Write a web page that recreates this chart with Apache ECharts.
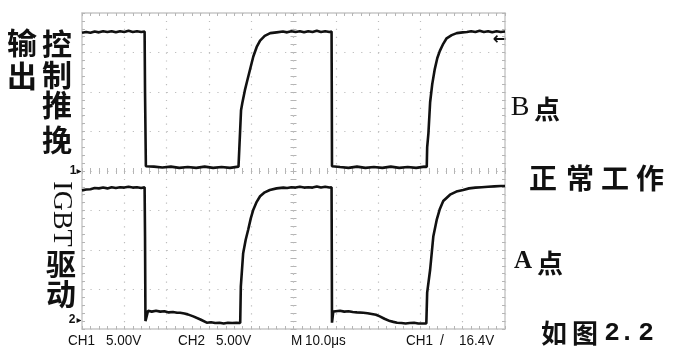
<!DOCTYPE html>
<html>
<head>
<meta charset="utf-8">
<script src="https://cdn.jsdelivr.net/npm/echarts@6/dist/echarts.min.js"></script>
<style>
  html, body { margin: 0; padding: 0; background: #fff; }
  #scope { width: 675px; height: 363px; }
</style>
</head>
<body>
<div id="scope"></div>
<script>
// 示波器: M 10.0us/div, CH1 5.00V/div, CH2 5.00V/div
// 时间 us, 电压 V
var ch1Trace = [
  [-50, 17.5], [-49, 17.6], [-48, 17.5], [-47, 17.65], [-46, 17.55], [-45, 17.7], [-44, 17.6],
  [-43, 17.7], [-42, 17.55], [-41, 17.7], [-40, 17.6], [-39, 17.75], [-38, 17.6], [-37, 17.7],
  [-36, 17.6], [-35.2, 17.65],
  [-35.1, 10.0], [-35.0, 9.8], [-34.9, 0.6],
  [-34.6, 0.8], [-33, 0.55], [-31, 0.45], [-29, 0.55], [-27, 0.4], [-25, 0.5], [-23, 0.4], [-21, 0.55],
  [-19, 0.4], [-17, 0.5], [-15, 0.4], [-13, 0.55], [-12.6, 0.5],
  [-12.4, 7.7], [-12.1, 8.6], [-11.5, 10.2], [-11.0, 11.3], [-10.2, 13.0], [-9.5, 14.5], [-8.7, 15.7],
  [-7.9, 16.5], [-6.8, 17.1], [-5.5, 17.45], [-4, 17.55], [-2.5, 17.65],
  [-1.5, 17.55], [-0.5, 17.7], [0.5, 17.6], [1.5, 17.7], [2.5, 17.55], [3.5, 17.7], [4.5, 17.6],
  [5.5, 17.75], [6.5, 17.6], [7.5, 17.7], [8.5, 17.6], [9.0, 17.65],
  [9.05, 10.0], [9.1, 0.6],
  [9.4, 0.8], [11, 0.5], [13, 0.4], [15, 0.55], [17, 0.4], [19, 0.5], [21, 0.4], [23, 0.55], [25, 0.4],
  [27, 0.5], [29, 0.4], [31, 0.55], [31.5, 0.5],
  [31.6, 3.0], [31.9, 4.8], [32.3, 8.7], [32.8, 11.0], [33.4, 12.9], [34.0, 14.3], [34.6, 15.2],
  [35.4, 16.1], [36.2, 16.8], [37.4, 17.2], [38.6, 17.45], [40, 17.55], [41, 17.6], [42, 17.7],
  [43, 17.6], [44, 17.75], [45, 17.6], [46, 17.7], [47, 17.55], [48, 17.7], [49, 17.6], [50, 17.65]
];

var ch2Trace = [
  [-50, 16.45], [-49, 16.55], [-48, 16.6], [-47, 16.75], [-46, 16.7], [-45, 16.8], [-44, 16.7],
  [-43, 16.85], [-42, 16.75], [-41, 16.85], [-40, 16.8], [-39, 16.9], [-38, 16.8], [-37, 16.85],
  [-36, 16.75], [-35.2, 16.85],
  [-35.1, 10.6], [-35.0, -0.1], [-34.6, -0.2], [-34.4, 1.2],
  [-33.5, 1.1], [-32.5, 1.2], [-31.5, 1.1], [-30.5, 1.15], [-29.5, 1.0], [-28.5, 1.05], [-27.5, 0.95],
  [-26.8, 0.95], [-25.8, 0.85], [-25, 0.75], [-23.7, 0.5], [-22, 0.1],
  [-20.5, -0.3], [-19.5, -0.25], [-18.5, -0.35], [-17.5, -0.3], [-16.5, -0.4], [-15.5, -0.3],
  [-14.5, -0.35], [-13.5, -0.3], [-12.6, -0.35],
  [-12.45, 4.3], [-11.9, 8.5], [-11.3, 10.2], [-10.7, 11.5], [-10.1, 12.9], [-9.5, 14.0], [-8.7, 15.0],
  [-7.9, 15.7], [-6.8, 16.2], [-5.6, 16.5], [-4, 16.7], [-2.4, 16.8],
  [-1.5, 16.75], [-0.5, 16.85], [0.5, 16.8], [1.5, 16.9], [2.5, 16.8], [3.5, 16.85], [4.5, 16.8],
  [5.5, 16.95], [6.5, 16.8], [7.5, 16.9], [8.5, 16.8], [9.0, 16.85],
  [9.05, 9.0], [9.1, -0.3], [9.3, -0.2], [9.4, 1.1],
  [10, 1.15], [11, 1.2], [12, 1.1], [13, 1.15], [14, 1.05], [15, 1.0], [16.5, 0.95], [17.5, 0.9],
  [18.5, 0.8], [19.5, 0.7], [20.4, 0.5], [21.5, 0.2], [22.8, -0.1], [23.6, -0.2], [24.5, -0.3],
  [25.5, -0.35], [26.5, -0.4], [27.5, -0.35], [28.5, -0.3], [29.5, -0.4], [30.7, -0.4], [31.4, -0.4],
  [31.6, 3.5], [32.3, 6.4], [33.05, 10.6], [33.85, 12.7], [34.6, 14.1], [35.4, 15.1], [37, 15.9],
  [38.5, 16.3], [40.1, 16.5], [41.5, 16.7], [43, 16.8], [44.5, 16.85], [46, 16.9], [47.5, 16.95],
  [49, 17.0], [50, 17.0]
];

var ch2Ground = -18.9; // CH2 零点在屏幕上的位置 (按 CH1 刻度, V)
var bottomLabels = ['CH1', '5.00V', 'CH2', '5.00V', 'M', '10.0\u03bcs', 'CH1', '/', '16.4V'];

var gridColor = '#bdbdbd';
var tickColor = '#b5b5b5';
var sansFont = '"Liberation Sans", Arial, sans-serif';
var cjkFont = '"Noto Sans CJK SC", sans-serif';

function frameAxis(dim, position, onZero, splitLine) {
  var ax = {
    type: 'value',
    position: position,
    min: dim === 'x' ? -50 : -20,
    max: dim === 'x' ? 50 : 20,
    interval: dim === 'x' ? 10 : 5,
    axisLine: {
      show: true,
      onZero: onZero,
      lineStyle: onZero
        ? { color: 'rgba(0,0,0,0)' }
        : { color: '#c8c8c8', width: 1.5 }
    },
    axisTick: { show: true, inside: true, length: 3, lineStyle: { color: tickColor } },
    minorTick: { show: true, splitNumber: 5, length: 3, lineStyle: { color: tickColor } },
    axisLabel: { show: false },
    splitLine: { show: false }
  };
  if (onZero) ax.axisLine.onZeroAxisIndex = 0;
  if (splitLine) {
    ax.splitLine = {
      show: true,
      lineStyle: {
        color: gridColor,
        width: 1.2,
        type: dim === 'x' ? [1.2, 6.7] : [1.2, 7.26]
      }
    };
  }
  return ax;
}

function txt(text, x, y, size, opts) {
  opts = opts || {};
  return {
    type: 'text',
    x: x,
    y: y,
    scaleX: opts.scaleX || 1,
    rotation: opts.rotation || 0,
    style: {
      text: text,
      fill: opts.color || '#111',
      font: (opts.weight || 'normal') + ' ' + size + 'px ' + (opts.family || cjkFont),
      textAlign: opts.align || 'center',
      textVerticalAlign: 'middle'
    }
  };
}

var chart = echarts.init(document.getElementById('scope'), null, { renderer: 'canvas' });

var graphics = [
  // 左侧竖排文字
  txt('输', 22, 43, 30, { weight: 'bold' }),
  txt('出', 22, 76, 30, { weight: 'bold' }),
  txt('控', 57, 44, 30, { weight: 'bold' }),
  txt('制', 57, 75, 30, { weight: 'bold' }),
  txt('推', 57, 105, 30, { weight: 'bold' }),
  txt('挽', 57, 140, 30, { weight: 'bold' }),
  txt('IGBT', 61, 214, 28, { rotation: -Math.PI / 2, family: '"Liberation Serif", serif' }),
  txt('驱', 61, 264, 30, { weight: 'bold' }),
  txt('动', 61, 294, 30, { weight: 'bold' }),
  // 右侧说明
  txt('B', 520, 108, 28, { family: '"Liberation Serif", serif' }),
  txt('点', 547, 109, 26, { weight: 'bold' }),
  txt('正', 543, 178, 28, { weight: 'bold' }),
  txt('常', 580, 178, 28, { weight: 'bold' }),
  txt('工', 615, 178, 28, { weight: 'bold' }),
  txt('作', 650, 178, 28, { weight: 'bold' }),
  txt('A', 523, 262, 25, { weight: 'bold', family: '"Liberation Serif", serif' }),
  txt('点', 550, 263, 26, { weight: 'bold' }),
  txt('如', 554, 333, 26, { weight: 'bold' }),
  txt('图', 585, 333, 26, { weight: 'bold' }),
  txt('2', 612, 333, 26, { weight: 'bold', family: '"Liberation Mono", monospace' }),
  txt('.', 627, 333, 26, { weight: 'bold', family: '"Liberation Mono", monospace' }),
  txt('2', 646, 333, 26, { weight: 'bold', family: '"Liberation Mono", monospace' }),
  // 通道零点标记与触发电平
  txt('1', 73, 171, 12, { weight: 'bold', family: sansFont }),
  txt('\u25b8', 79, 171, 10, { family: '"DejaVu Sans", sans-serif' }),
  txt('2', 72, 320, 12, { weight: 'bold', family: sansFont }),
  txt('\u25b8', 79, 320, 10, { family: '"DejaVu Sans", sans-serif' }),
  txt('\u2190', 507, 40, 17, { weight: 'bold', align: 'right', family: '"DejaVu Sans", sans-serif' }),
  // 底部读数
  txt(bottomLabels[0], 68, 341, 15, { align: 'left', family: sansFont, scaleX: 0.9 }),
  txt(bottomLabels[1], 106, 341, 15, { align: 'left', family: sansFont, scaleX: 0.9 }),
  txt(bottomLabels[2], 178, 341, 15, { align: 'left', family: sansFont, scaleX: 0.9 }),
  txt(bottomLabels[3], 216, 341, 15, { align: 'left', family: sansFont, scaleX: 0.9 }),
  txt(bottomLabels[4], 291, 341, 15, { align: 'left', family: sansFont, scaleX: 0.9 }),
  txt(bottomLabels[5], 305, 341, 15, { align: 'left', family: sansFont, scaleX: 0.9 }),
  txt(bottomLabels[6], 406, 341, 15, { align: 'left', family: sansFont, scaleX: 0.9 }),
  txt(bottomLabels[7], 440, 341, 14, { align: 'left', family: sansFont }),
  txt(bottomLabels[8], 459, 341, 15, { align: 'left', family: sansFont, scaleX: 0.9 })
];

chart.setOption({
  backgroundColor: '#fff',
  animation: false,
  grid: { left: 82, top: 13, width: 423, height: 316, show: false },
  xAxis: [
    frameAxis('x', 'bottom', false, true),
    frameAxis('x', 'top', false, false),
    frameAxis('x', 'bottom', true, false),
    frameAxis('x', 'top', true, false)
  ],
  yAxis: [
    frameAxis('y', 'left', false, true),
    frameAxis('y', 'right', false, false),
    frameAxis('y', 'left', true, false),
    frameAxis('y', 'right', true, false)
  ],
  series: [
    {
      name: 'CH1 B点',
      type: 'line',
      xAxisIndex: 0,
      yAxisIndex: 0,
      data: ch1Trace,
      showSymbol: false,
      symbol: 'none',
      lineStyle: { color: '#111', width: 2.6 },
      z: 5
    },
    {
      name: 'CH2 A点',
      type: 'line',
      xAxisIndex: 0,
      yAxisIndex: 0,
      data: ch2Trace.map(function (p) { return [p[0], p[1] + ch2Ground]; }),
      showSymbol: false,
      symbol: 'none',
      lineStyle: { color: '#111', width: 2.6 },
      z: 5
    }
  ],
  graphic: graphics
});
</script>
</body>
</html>
